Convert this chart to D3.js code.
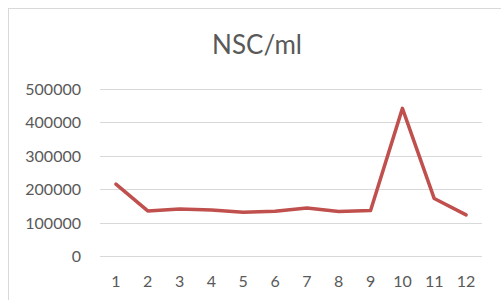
<!DOCTYPE html>
<html>
<head>
<meta charset="utf-8">
<script src="https://cdn.jsdelivr.net/npm/d3@7"></script>
<style>
  body { margin: 0; background: #fff; }
  text { font-family: Lato, "Open Sans", sans-serif; fill: #595959; }
</style>
</head>
<body>
<div id="chart"></div>
<script>
// data
var months = ["1","2","3","4","5","6","7","8","9","10","11","12"];
var nscValues = [215000, 135000, 141000, 138000, 131000, 134000, 144000, 133000, 136000, 442000, 172000, 123000];
var yTicks = [0, 100000, 200000, 300000, 400000, 500000];

var width = 501, height = 300;

var svg = d3.select("#chart")
    .append("svg")
    .attr("width", width)
    .attr("height", height);

// outer chart frame (runs off the right and bottom edge)
svg.append("rect")
    .attr("x", 8.5)
    .attr("y", 8.5)
    .attr("width", 520)
    .attr("height", 320)
    .attr("fill", "none")
    .attr("stroke", "#d9d9d9")
    .attr("stroke-width", 1);

var x = d3.scaleBand()
    .domain(months)
    .range([100, 482]);

var y = d3.scaleLinear()
    .domain([0, 500000])
    .range([256, 89]);

// gridlines
svg.append("g")
    .selectAll("line")
    .data(yTicks)
    .enter()
    .append("line")
    .attr("x1", 100)
    .attr("x2", 482)
    .attr("y1", function(d){ return Math.round(y(d)) + 0.5; })
    .attr("y2", function(d){ return Math.round(y(d)) + 0.5; })
    .attr("stroke", "#d9d9d9")
    .attr("stroke-width", 1);

// y labels
svg.append("g")
    .selectAll("text")
    .data(yTicks)
    .enter()
    .append("text")
    .attr("x", 81)
    .attr("y", function(d){ return y(d) + 6; })
    .attr("text-anchor", "end")
    .attr("font-size", "16px")
    .text(function(d){ return d; });

// x labels
svg.append("g")
    .selectAll("text")
    .data(months)
    .enter()
    .append("text")
    .attr("x", function(d){ return x(d) + x.bandwidth() / 2; })
    .attr("y", 287)
    .attr("text-anchor", "middle")
    .attr("font-size", "16px")
    .text(function(d){ return d; });

// the line
var line = d3.line()
    .x(function(d, i){ return x(months[i]) + x.bandwidth() / 2; })
    .y(function(d){ return y(d); });

svg.append("path")
    .datum(nscValues)
    .attr("d", line)
    .attr("fill", "none")
    .attr("stroke", "#c0504d")
    .attr("stroke-width", 3.5)
    .attr("stroke-linejoin", "round")
    .attr("stroke-linecap", "round");

// title
svg.append("text")
    .attr("x", 257)
    .attr("y", 54)
    .attr("text-anchor", "middle")
    .attr("font-size", "26px")
    .text("NSC/ml");
</script>
</body>
</html>
